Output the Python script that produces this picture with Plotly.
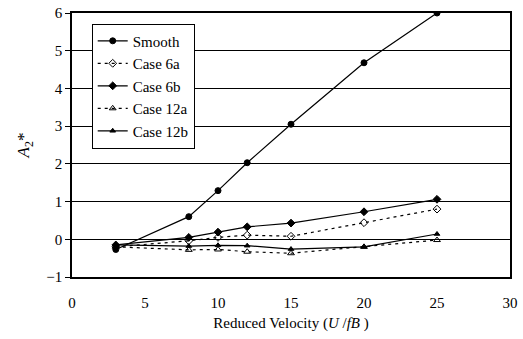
import plotly.graph_objects as go

velocity = [3, 8, 10, 12, 15, 20, 25]
smooth = [-0.27, 0.60, 1.29, 2.03, 3.05, 4.68, 6.00]
case_6a = [-0.20, -0.04, 0.05, 0.11, 0.08, 0.44, 0.80]
case_6b = [-0.15, 0.05, 0.19, 0.33, 0.43, 0.73, 1.06]
case_12a = [-0.20, -0.28, -0.27, -0.33, -0.37, -0.20, -0.02]
case_12b = [-0.15, -0.18, -0.16, -0.17, -0.26, -0.20, 0.14]

series = [
    ("Smooth", smooth, "solid", "circle", 6),
    ("Case 6a", case_6a, "3px,4px", "diamond-open", 6),
    ("Case 6b", case_6b, "solid", "diamond", 6),
    ("Case 12a", case_12a, "3px,4px", "triangle-up-open", 6),
    ("Case 12b", case_12b, "solid", "triangle-up", 5),
]

fig = go.Figure()
for name, vals, dash, sym, sz in series:
    fig.add_trace(go.Scatter(
        x=velocity, y=vals, name=name, mode="lines+markers",
        line=dict(color="black", width=1.2, dash=dash),
        marker=dict(symbol=sym, size=sz, color="black",
                    line=dict(color="black", width=1)),
    ))

font = "Times New Roman"
fig.update_layout(
    width=523, height=339,
    margin=dict(l=72, r=13, t=13, b=62),
    paper_bgcolor="white", plot_bgcolor="white",
    showlegend=True,
    legend=dict(x=0.045, y=0.96, xanchor="left", yanchor="top",
                bgcolor="white", bordercolor="black", borderwidth=1,
                font=dict(family=font, size=15, color="black"), tracegroupgap=0,
                itemwidth=30),
    xaxis=dict(range=[0, 30], tickvals=[0, 5, 10, 15, 20, 25, 30],
               showgrid=False, zeroline=False, showline=True,
               linecolor="black", linewidth=1.5, mirror=True,
               ticks="", ticklabelstandoff=11, automargin=False,
               tickfont=dict(family=font, size=15, color="black"),
               title=dict(text="Reduced Velocity (<i>U</i> /<i>fB</i> )",
                          font=dict(family=font, size=15, color="black"), standoff=8)),
    yaxis=dict(range=[-1, 6], tickvals=[-1, 0, 1, 2, 3, 4, 5, 6],
               showgrid=True, gridcolor="black", gridwidth=1.2,
               zeroline=False, showline=True, linecolor="black",
               linewidth=1.5, mirror=True, ticks="outside", ticklen=5,
               automargin=False,
               tickcolor="black", tickfont=dict(family=font, size=15, color="black"),
               title=dict(text="<i>A</i><sub>2</sub>*",
                          font=dict(family=font, size=17, color="black"), standoff=12)),
)

fig.write_html("out.html")
